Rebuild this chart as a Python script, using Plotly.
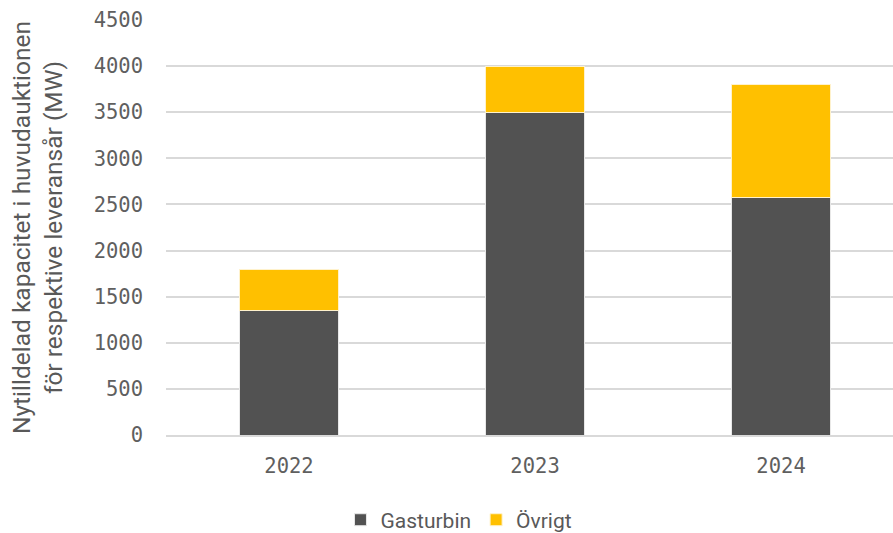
import plotly.graph_objects as go

years = ["2022", "2023", "2024"]
gasturbin = [1350, 3500, 2580]
ovrigt = [450, 500, 1220]
y_ticks = [0, 500, 1000, 1500, 2000, 2500, 3000, 3500, 4000, 4500]

text_color = "#595959"
tick_font = dict(family="DejaVu Sans Mono", size=20.5, color="#5f5f5f")

fig = go.Figure()
fig.add_trace(go.Bar(x=years, y=gasturbin, name="Gasturbin",
                     marker=dict(color="#525252", line=dict(color="#e8e8e8", width=1))))
fig.add_trace(go.Bar(x=years, y=ovrigt, name="Övrigt",
                     marker=dict(color="#FFC000", line=dict(color="#fff2cc", width=1))))

fig.update_layout(
    barmode="stack",
    bargap=0.6,
    width=893, height=533,
    margin=dict(l=166, r=0, t=20, b=98, autoexpand=False),
    plot_bgcolor="white", paper_bgcolor="white",
    showlegend=True,
    legend=dict(orientation="h", x=0.403, xanchor="center", y=-0.205, yanchor="middle",
                font=dict(family="Roboto", size=21, color=text_color),
                itemwidth=30, traceorder="normal"),
    xaxis=dict(type="category", range=[-0.5, 2.455], showgrid=False, automargin=False,
               showline=True, linecolor="#d9d9d9", linewidth=1.5,
               ticks="", tickfont=tick_font, ticklabelstandoff=12),
    yaxis=dict(range=[0, 4500], tickvals=y_ticks, showgrid=True, automargin=False,
               gridcolor="#d9d9d9", gridwidth=1.5, zeroline=False,
               ticks="", tickfont=tick_font, ticklabelstandoff=22,
               title=dict(text="Nytilldelad kapacitet i huvudauktionen<br>för respektive leveransår (MW)",
                          font=dict(family="Roboto", size=24.5, color=text_color), standoff=24)),
)

fig.write_html("out.html", config={"displayModeBar": False},
               post_script="document.body.style.margin='0';")
